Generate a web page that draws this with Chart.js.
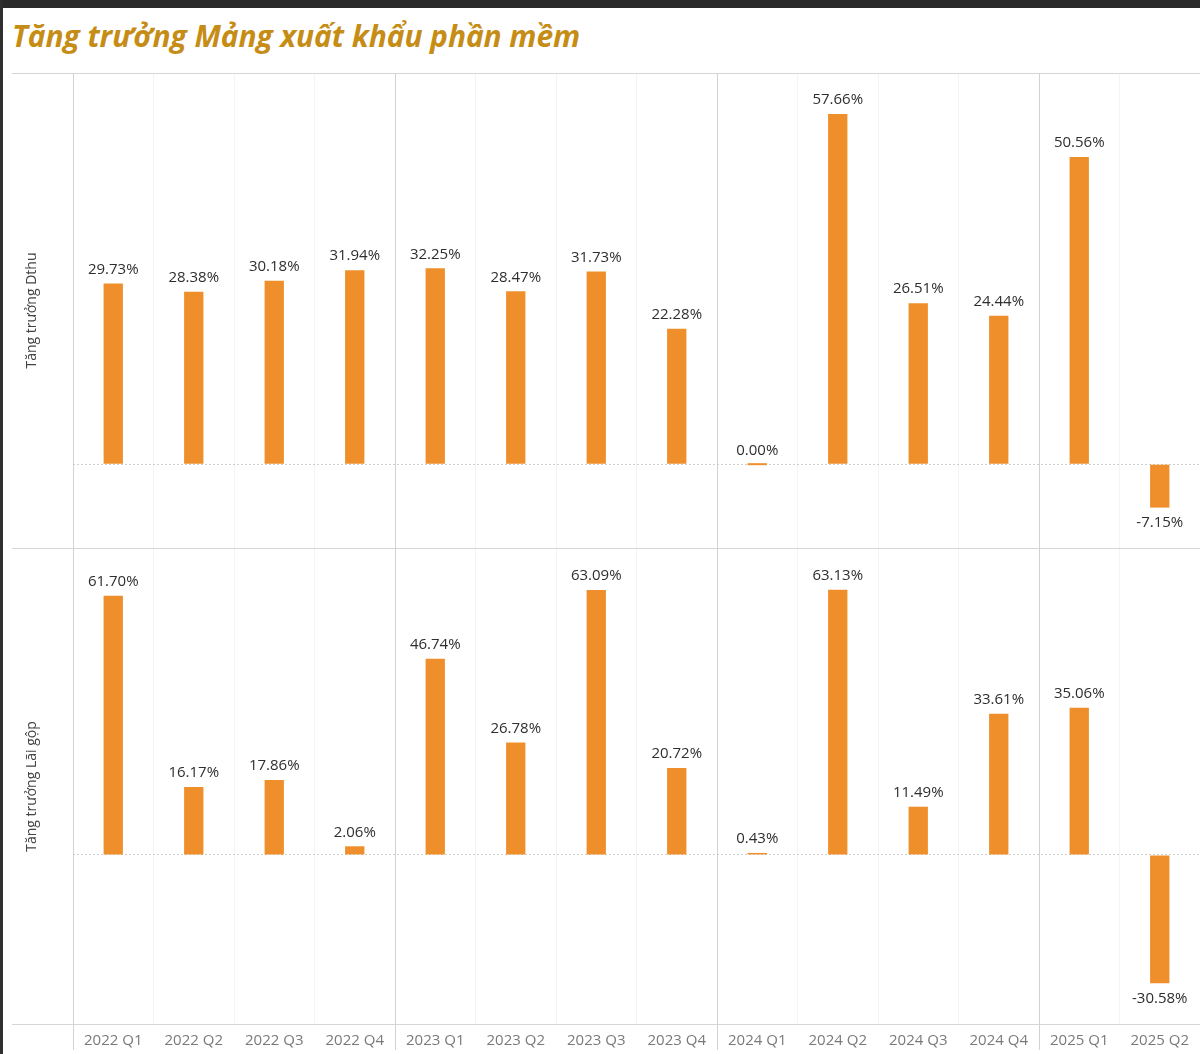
<!DOCTYPE html>
<html>
<head>
<meta charset="utf-8">
<script src="https://cdn.jsdelivr.net/npm/chart.js@4.4.1/dist/chart.umd.min.js"></script>
<style>
  html, body { margin: 0; padding: 0; background: #fff; }
  body { width: 1200px; height: 1054px; position: relative; overflow: hidden; }
  #topbar { position: absolute; left: 0; top: 0; width: 1200px; height: 8px; background: #2a2a2a; }
  #leftbar { position: absolute; left: 0; top: 0; width: 3px; height: 1054px; background: #2f2f2f; }
  #title {
    position: absolute; left: 12px; top: 17px; line-height: 38px;
    font-family: "Open Sans", sans-serif; font-weight: 700; font-style: italic;
    font-size: 30px; color: #c68d16; letter-spacing: -0.1px;
  }
  #c1 { position: absolute; left: 0; top: 73px; }
  #c2 { position: absolute; left: 0; top: 548px; }
</style>
</head>
<body>
<div id="topbar"></div>
<div id="title">Tăng trưởng Mảng xuất khẩu phần mềm</div>
<canvas id="c1" width="1200" height="475"></canvas>
<canvas id="c2" width="1200" height="506"></canvas>
<div id="leftbar"></div>
<script>
const quarters = ['2022 Q1', '2022 Q2', '2022 Q3', '2022 Q4',
                  '2023 Q1', '2023 Q2', '2023 Q3', '2023 Q4',
                  '2024 Q1', '2024 Q2', '2024 Q3', '2024 Q4',
                  '2025 Q1', '2025 Q2'];
const revenueGrowth = [29.73, 28.38, 30.18, 31.94, 32.25, 28.47, 31.73, 22.28, 0.00, 57.66, 26.51, 24.44, 50.56, -7.15];
const grossProfitGrowth = [61.70, 16.17, 17.86, 2.06, 46.74, 26.78, 63.09, 20.72, 0.43, 63.13, 11.49, 33.61, 35.06, -30.58];

const barColor = '#ef8f2b';

// value labels above / below each bar
const valueLabels = {
  id: 'valueLabels',
  afterDatasetsDraw(chart) {
    const ctx = chart.ctx;
    const meta = chart.getDatasetMeta(0);
    const data = chart.data.datasets[0].data;
    ctx.save();
    ctx.font = '15px "Open Sans"';
    ctx.fillStyle = '#2e2e2e';
    ctx.textAlign = 'center';
    ctx.textBaseline = 'middle';
    meta.data.forEach((bar, i) => {
      const v = data[i];
      const y = v >= 0 ? bar.y - 14 : bar.y + 15;
      ctx.fillText(v.toFixed(2) + '%', bar.x, y);
    });
    ctx.restore();
  }
};

// horizontal frame lines running out to the left margin
const frameLines = {
  id: 'frameLines',
  beforeDatasetsDraw(chart, args, opts) {
    const ctx = chart.ctx;
    const a = chart.chartArea;
    ctx.save();
    ctx.strokeStyle = '#d6d6d6';
    ctx.lineWidth = 1;
    ctx.beginPath();
    ctx.moveTo(12, a.top + 0.5); ctx.lineTo(a.right, a.top + 0.5);
    if (opts.bottom) { ctx.moveTo(12, a.bottom - 0.5); ctx.lineTo(a.right, a.bottom - 0.5); }
    ctx.stroke();
    ctx.restore();
  }
};

function makeChart(id, values, yTitle, yMin, yMax, showLabels) {
  return new Chart(document.getElementById(id), {
    type: 'bar',
    data: {
      labels: quarters,
      datasets: [{
        data: values,
        backgroundColor: barColor,
        barPercentage: 0.24,
        categoryPercentage: 1,
        minBarLength: 2
      }]
    },
    options: {
      responsive: false,
      animation: false,
      devicePixelRatio: 1,
      layout: { padding: 0 },
      plugins: {
        legend: { display: false },
        tooltip: { enabled: false },
        frameLines: { bottom: showLabels }
      },
      scales: {
        x: {
          border: { display: false },
          grid: {
            offset: true,
            color: c => (c.index !== undefined && c.index % 4 === 0) ? '#d2d2d2' : '#f4f4f4',
            tickColor: c => (c.index !== undefined && c.index % 4 === 0) ? '#d2d2d2' : 'rgba(0,0,0,0)',
            drawTicks: showLabels,
            tickLength: 25
          },
          ticks: {
            display: showLabels,
            color: '#7a7a7a',
            font: { family: 'Open Sans', size: 15 },
            padding: -18,
            maxRotation: 0
          },
          afterFit: s => { s.height = showLabels ? 29 : 0; }
        },
        y: {
          min: yMin,
          max: yMax,
          border: { display: false, dash: [2, 2] },
          grid: {
            color: c => c.tick && c.tick.value === 0 ? '#cfcfcf' : 'rgba(0,0,0,0)',
            drawTicks: false
          },
          ticks: { display: false, stepSize: 10 },
          title: {
            display: true,
            text: yTitle,
            color: '#444',
            font: { family: 'Open Sans', size: 14 },
            padding: { top: 24, bottom: 0 }
          },
          afterFit: s => { s.width = 73; }
        }
      }
    },
    plugins: [valueLabels, frameLines]
  });
}

makeChart('c1', revenueGrowth, 'Tăng trưởng Dthu', -13.8, 64.4, false);
makeChart('c2', grossProfitGrowth, 'Tăng trưởng Lãi gộp', -40.5, 73.1, true);
</script>
</body>
</html>
